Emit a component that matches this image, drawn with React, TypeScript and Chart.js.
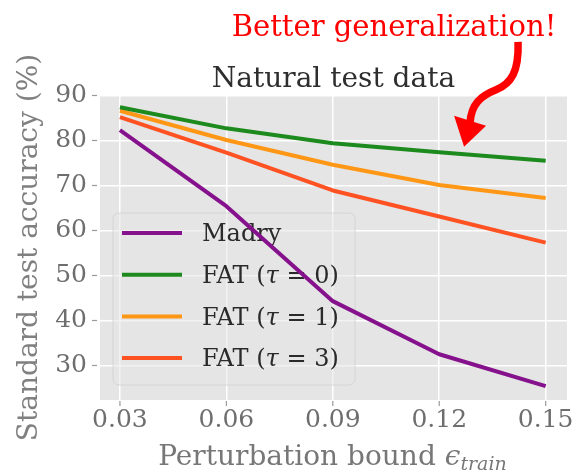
import React, { useEffect, useRef } from 'react';
import { Chart, registerables } from 'chart.js';

Chart.register(...registerables);

// ---- data ----
const EPS_TRAIN = [0.03, 0.06, 0.09, 0.12, 0.15];
const X_TICKS = [0.03, 0.06, 0.09, 0.12, 0.15];
const Y_TICKS = [30, 40, 50, 60, 70, 80, 90];
const MADRY = [82.3, 65.4, 44.3, 32.5, 25.4];
const FAT_TAU0 = [87.4, 82.7, 79.4, 77.4, 75.5];
const FAT_TAU1 = [86.6, 80.1, 74.6, 70.1, 67.2];
const FAT_TAU3 = [85.2, 77.3, 68.9, 63.1, 57.3];
const SERIES_LABELS = ['Madry', 'FAT (τ = 0)', 'FAT (τ = 1)', 'FAT (τ = 3)'];
const SERIES_COLORS = ['#86118c', '#1c8a1c', '#ff9716', '#ff5222'];
const TITLE = 'Natural test data';
const ANNOTATION = 'Better generalization!';
const ARROW_TIP = [0.127, 78.6];
const X_LABEL = 'Perturbation bound ';
const Y_LABEL = 'Standard test accuracy (%)';

const FONT = '"DejaVu Serif", serif';

const decorPlugin = {
  id: 'decor',
  beforeDraw(chart: any) {
    const { ctx, chartArea: a } = chart;
    ctx.save();
    ctx.fillStyle = '#e5e5e5';
    ctx.fillRect(a.left, a.top, a.right - a.left, a.bottom - a.top);
    ctx.restore();
  },
  beforeDatasetsDraw(chart: any) {
    // legend box (drawn below lines)
    const { ctx, chartArea: a } = chart;
    const bx = a.left + 13, by = a.top + 118, bw = 242, bh = 172;
    ctx.save();
    ctx.beginPath();
    if (ctx.roundRect) ctx.roundRect(bx, by, bw, bh, 6);
    else ctx.rect(bx, by, bw, bh);
    ctx.fillStyle = 'rgba(229,229,229,0.55)';
    ctx.fill();
    ctx.strokeStyle = 'rgba(205,205,205,0.7)';
    ctx.lineWidth = 1;
    ctx.stroke();
    chart.data.datasets.forEach((ds: any, i: number) => {
      const cy = by + 20 + i * 41.7;
      ctx.beginPath();
      ctx.strokeStyle = ds.borderColor;
      ctx.lineWidth = 4;
      ctx.moveTo(bx + 9, cy);
      ctx.lineTo(bx + 69, cy);
      ctx.stroke();
      const parts = String(ds.label).split('τ');
      let x = bx + 89;
      ctx.fillStyle = '#2a2a2a';
      ctx.textBaseline = 'middle';
      ctx.textAlign = 'left';
      parts.forEach((p: string, j: number) => {
        if (j > 0) {
          ctx.font = `italic 24px ${FONT}`;
          ctx.fillText('τ', x, cy + 2);
          x += ctx.measureText('τ').width;
        }
        ctx.font = `24px ${FONT}`;
        ctx.fillText(p, x, cy + 2);
        x += ctx.measureText(p).width;
      });
    });
    ctx.restore();
  },
  afterDraw(chart: any) {
    const { ctx, chartArea: a } = chart;
    const xs = chart.scales.x, ys = chart.scales.y;
    ctx.save();
    // tick marks
    ctx.strokeStyle = '#9a9a9a';
    ctx.lineWidth = 1.2;
    Y_TICKS.forEach((v) => {
      const y = ys.getPixelForValue(v);
      ctx.beginPath();
      ctx.moveTo(a.left - 8, y);
      ctx.lineTo(a.left - 3, y);
      ctx.stroke();
    });
    X_TICKS.forEach((v) => {
      const x = xs.getPixelForValue(v);
      ctx.beginPath();
      ctx.moveTo(x, a.bottom + 1);
      ctx.lineTo(x, a.bottom + 6);
      ctx.stroke();
    });
    // title
    const cx = (a.left + a.right) / 2;
    ctx.fillStyle = '#2e2e2e';
    ctx.font = `28px ${FONT}`;
    ctx.textAlign = 'center';
    ctx.textBaseline = 'alphabetic';
    ctx.fillText(TITLE, cx, a.top - 8);
    // red annotation
    ctx.fillStyle = '#ff0000';
    ctx.font = `29px ${FONT}`;
    ctx.fillText(ANNOTATION, 394, 36);
    // arrow
    const tx = xs.getPixelForValue(ARROW_TIP[0]);
    const ty = ys.getPixelForValue(ARROW_TIP[1]);
    ctx.strokeStyle = '#ff0000';
    ctx.lineWidth = 7.5;
    ctx.lineCap = 'butt';
    ctx.beginPath();
    ctx.moveTo(tx + 54, ty - 105);
    ctx.bezierCurveTo(tx + 55, ty - 75, tx + 47, ty - 63, tx + 32, ty - 57);
    ctx.bezierCurveTo(tx + 17, ty - 51, tx + 7, ty - 43, tx + 6, ty - 24);
    ctx.stroke();
    ctx.fillStyle = '#ff0000';
    ctx.beginPath();
    ctx.moveTo(tx, ty);
    ctx.lineTo(tx - 10, ty - 31);
    ctx.lineTo(tx + 22, ty - 21);
    ctx.closePath();
    ctx.fill();
    // x-axis title with subscript
    ctx.fillStyle = '#777777';
    ctx.textAlign = 'left';
    ctx.font = `28px ${FONT}`;
    const w1 = ctx.measureText(X_LABEL).width;
    ctx.font = `italic 28px ${FONT}`;
    const w2 = ctx.measureText('ϵ').width;
    ctx.font = `italic 19px ${FONT}`;
    const w3 = ctx.measureText('train').width;
    let x0 = cx - 1 - (w1 + w2 + w3) / 2;
    const base = 465;
    ctx.font = `28px ${FONT}`;
    ctx.fillText(X_LABEL, x0, base);
    x0 += w1;
    ctx.font = `italic 28px ${FONT}`;
    ctx.fillText('ϵ', x0, base);
    x0 += w2;
    ctx.font = `italic 19px ${FONT}`;
    ctx.fillText('train', x0, base + 5);
    ctx.restore();
  },
};

export default function App() {
  const ref = useRef<HTMLCanvasElement | null>(null);
  useEffect(() => {
    if (!ref.current) return;
    const series = [MADRY, FAT_TAU0, FAT_TAU1, FAT_TAU3];
    const chart = new Chart(ref.current, {
      type: 'line',
      data: {
        datasets: series.map((vals, i) => ({
          label: SERIES_LABELS[i],
          data: EPS_TRAIN.map((x, j) => ({ x, y: vals[j] })),
          borderColor: SERIES_COLORS[i],
          backgroundColor: SERIES_COLORS[i],
          borderWidth: 4,
          pointRadius: 0,
          tension: 0,
          borderJoinStyle: 'round',
          fill: false,
        })),
      },
      options: {
        animation: false,
        responsive: false,
        devicePixelRatio: 1,
        layout: { padding: { top: 95, right: 11, left: 0, bottom: 0 } },
        plugins: {
          legend: { display: false },
          tooltip: { enabled: false },
          title: { display: false },
        },
        scales: {
          x: {
            type: 'linear',
            min: 0.02438,
            max: 0.156,
            afterBuildTicks: (s: any) => {
              s.ticks = X_TICKS.map((v) => ({ value: v }));
            },
            afterFit: (s: any) => {
              s.height = 75;
            },
            ticks: {
              color: '#6e6e6e',
              font: { family: FONT, size: 25 },
              padding: 5,
              maxRotation: 0,
              autoSkip: false,
              callback: (v: any) => Number(v).toFixed(2),
            },
            grid: { color: '#ffffff', lineWidth: 1.5, drawTicks: false },
            border: { display: false },
          },
          y: {
            type: 'linear',
            min: 22.33,
            max: 90.11,
            afterBuildTicks: (s: any) => {
              s.ticks = Y_TICKS.map((v) => ({ value: v }));
            },
            afterFit: (s: any) => {
              s.width = 100;
            },
            ticks: {
              color: '#6e6e6e',
              font: { family: FONT, size: 25 },
              padding: 13,
              autoSkip: false,
              callback: (v: any) => String(v),
            },
            grid: { color: '#ffffff', lineWidth: 1.5, drawTicks: false },
            border: { display: false },
            title: {
              display: true,
              text: Y_LABEL,
              color: '#808080',
              font: { family: FONT, size: 28 },
              padding: { top: 13, bottom: 0 },
            },
          },
        },
      },
      plugins: [decorPlugin],
    } as any);
    return () => chart.destroy();
  }, []);
  return (
    <div style={{ position: 'absolute', left: 0, top: 0, width: 579, height: 475, background: '#fff' }}>
      <canvas ref={ref} width={579} height={475} style={{ width: 579, height: 475, display: 'block' }} />
    </div>
  );
}
